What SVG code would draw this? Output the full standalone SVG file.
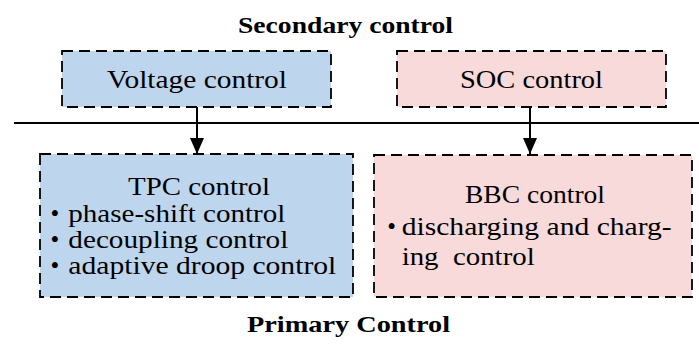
<svg xmlns="http://www.w3.org/2000/svg" width="699" height="345" viewBox="0 0 699 345">
<style>
.box{stroke:#000;stroke-width:1.8;stroke-dasharray:11,6}
.blue{fill:#bed5ee}
.pink{fill:#f8dada}
text{font-family:'Liberation Serif','Times New Roman',serif;fill:#000}
.t{font-size:25px}
.b{font-size:23px;font-weight:bold}
.ln{stroke:#000;stroke-width:2;fill:none}
</style>
<defs>
<marker id="arr" viewBox="0 0 16 14" refX="16" refY="7" markerWidth="16" markerHeight="14" markerUnits="userSpaceOnUse" orient="auto">
<path d="M0,0 L16,7 L0,14 Z" fill="#000"/>
</marker>
</defs>
<g id="title-secondary"><text class="b" x="238" y="33" textLength="215" lengthAdjust="spacingAndGlyphs">Secondary control</text></g>
<g id="voltage">
<rect class="box blue" x="62" y="51" width="269" height="56"/>
<text class="t" x="107" y="88" textLength="180" lengthAdjust="spacingAndGlyphs">Voltage control</text>
</g>
<g id="soc">
<rect class="box pink" x="397" y="51" width="269" height="56"/>
<text class="t" x="460" y="88" textLength="143" lengthAdjust="spacingAndGlyphs">SOC control</text>
</g>
<g id="connectors">
<line class="ln" x1="14" y1="123" x2="699" y2="123"/>
<line class="ln" x1="197" y1="107" x2="197" y2="154" marker-end="url(#arr)"/>
<line class="ln" x1="530" y1="107" x2="530" y2="154" marker-end="url(#arr)"/>
</g>
<g id="tpc">
<rect class="box blue" x="40" y="154" width="313" height="143"/>
<text class="t" x="128" y="195" textLength="142" lengthAdjust="spacingAndGlyphs">TPC control</text>
<text class="t" x="50.5" y="221.5">•</text>
<text class="t" x="68.3" y="221.5" textLength="217" lengthAdjust="spacingAndGlyphs">phase-shift control</text>
<text class="t" x="50.5" y="247.5">•</text>
<text class="t" x="68.3" y="247.5" textLength="220" lengthAdjust="spacingAndGlyphs">decoupling control</text>
<text class="t" x="50.5" y="273.5">•</text>
<text class="t" x="68.3" y="273.5" textLength="268" lengthAdjust="spacingAndGlyphs">adaptive droop control</text>
</g>
<g id="bbc">
<rect class="box pink" x="374" y="155" width="318" height="142"/>
<text class="t" x="465" y="203" textLength="140" lengthAdjust="spacingAndGlyphs">BBC control</text>
<text class="t" x="387.3" y="235">•</text>
<text class="t" x="401.7" y="235" textLength="270" lengthAdjust="spacingAndGlyphs">discharging and charg-</text>
<text class="t" x="401.7" y="265" textLength="133" lengthAdjust="spacingAndGlyphs" xml:space="preserve">ing  control</text>
</g>
<g id="title-primary"><text class="b" x="247" y="332" textLength="203" lengthAdjust="spacingAndGlyphs">Primary Control</text></g>
</svg>
